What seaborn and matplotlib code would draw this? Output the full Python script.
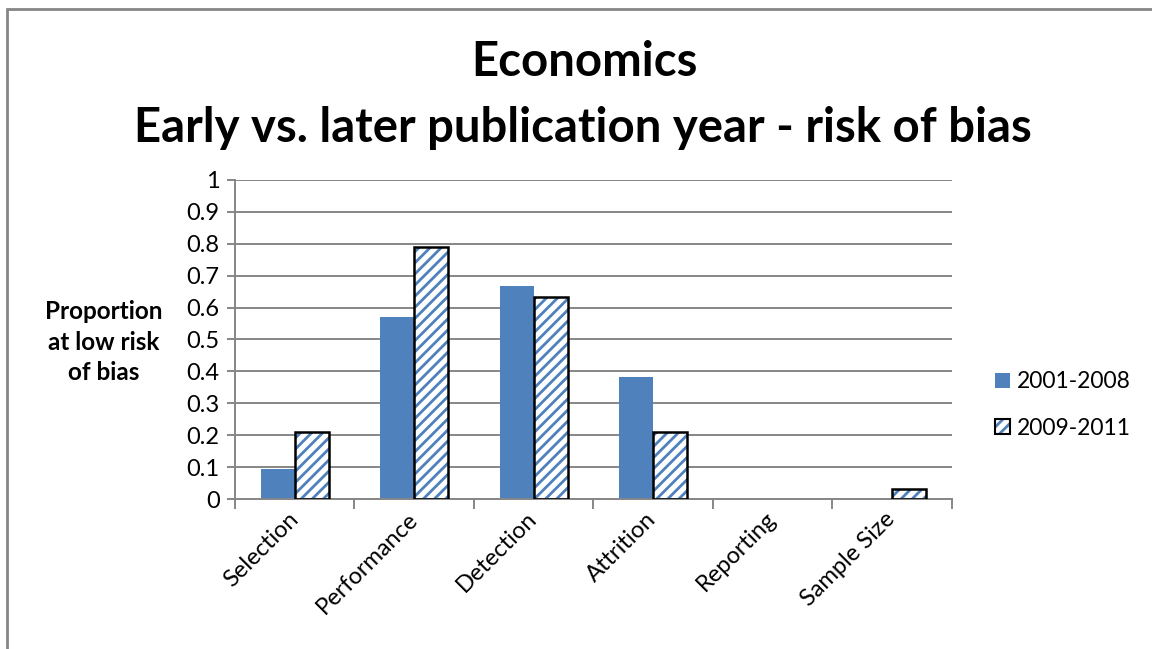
import numpy as np
import pandas as pd
import matplotlib
matplotlib.use("Agg")
import matplotlib.pyplot as plt
import seaborn as sns
from matplotlib.patches import Rectangle, Patch
from matplotlib.legend_handler import HandlerTuple

# Risk-of-bias domains and the proportion of studies at low risk, by period
categories = ["Selection", "Performance", "Detection", "Attrition", "Reporting", "Sample Size"]
series = ["2001-2008", "2009-2011"]
early = [0.095, 0.571, 0.667, 0.381, 0.0, 0.0]
later = [0.211, 0.789, 0.632, 0.211, 0.0, 0.032]
yticks = [0, 0.1, 0.2, 0.3, 0.4, 0.5, 0.6, 0.7, 0.8, 0.9, 1]

BLUE = "#4F81BD"
GRID = "#868686"

sns.set_theme(style="white")
plt.rcParams["font.family"] = ["Lato", "DejaVu Sans"]
plt.rcParams["hatch.linewidth"] = 2.0
plt.rcParams["text.color"] = "black"
plt.rcParams["xtick.labelcolor"] = "black"
plt.rcParams["ytick.labelcolor"] = "black"

df = pd.DataFrame({
    "category": categories * 2,
    "period": [series[0]] * len(categories) + [series[1]] * len(categories),
    "value": early + later,
})

fig = plt.figure(figsize=(11.52, 6.49), dpi=100)
ax = fig.add_axes([0.204, 0.2311, 0.622, 0.4916])

sns.barplot(data=df, x="category", y="value", hue="period", hue_order=series,
            palette=[BLUE, "white"], width=0.57, saturation=1, legend=False,
            ax=ax, zorder=2)

# First period: solid fill, no outline
for bar in ax.containers[0]:
    bar.set_edgecolor("none")
    bar.set_linewidth(0)

# Second period: blue diagonal stripes on white with a black outline
for bar in ax.containers[1]:
    bar.set_facecolor("white")
    bar.set_edgecolor(BLUE)
    bar.set_hatch("///")
    bar.set_linewidth(0)
    if bar.get_height() > 0:
        ax.add_patch(Rectangle(bar.get_xy(), bar.get_width(), bar.get_height(),
                               fill=False, edgecolor="black", linewidth=1.8,
                               zorder=3))

ax.set_xlim(-0.5, len(categories) - 0.5)
ax.set_ylim(0, 1)
ax.set_yticks(yticks)
ax.set_yticklabels([f"{t:g}" for t in yticks])
ax.yaxis.grid(True, color=GRID, linewidth=1.4)
ax.set_axisbelow(True)

for side in ["top", "right"]:
    ax.spines[side].set_visible(False)
for side in ["left", "bottom"]:
    ax.spines[side].set_color(GRID)
    ax.spines[side].set_linewidth(1.4)

ax.tick_params(axis="y", direction="out", length=6, width=1.4, color=GRID,
               labelcolor="black", labelsize=17, pad=5, left=True)
ax.set_xticks(range(len(categories)))
ax.set_xticklabels(categories, rotation=45, ha="right", va="center",
                   rotation_mode="anchor", fontsize=17, color="black")
ax.tick_params(axis="x", which="major", length=0, pad=12)
ax.set_xticks(np.arange(-0.5, len(categories), 1), minor=True)
ax.tick_params(axis="x", which="minor", direction="out", length=7,
               width=1.4, color=GRID, bottom=True)
ax.set_xlabel("")
ax.set_ylabel("")

# Titles and the axis caption
fig.text(0.507, 1 - 62 / 649, "Economics", ha="center", va="center",
         fontsize=34, fontweight="bold", color="black")
fig.text(0.506, 1 - 128 / 649, "Early vs. later publication year - risk of bias",
         ha="center", va="center", fontsize=34, fontweight="bold", color="black")
fig.text(104 / 1152, 1 - 342 / 649, "Proportion\nat low risk\nof bias",
         ha="center", va="center", fontsize=17.5, fontweight="bold",
         linespacing=1.4, color="black")

# Legend
h_early = Patch(facecolor=BLUE, edgecolor="none")
h_later = (Patch(facecolor="white", edgecolor=BLUE, hatch="///", linewidth=0),
           Patch(fill=False, edgecolor="black", linewidth=1.5))
leg = fig.legend([h_early, h_later], series, loc="center left",
                 bbox_to_anchor=(995 / 1152, 1 - 405 / 649), frameon=False,
                 borderaxespad=0, borderpad=0,
                 fontsize=16.5, handlelength=0.65, handleheight=0.65,
                 handletextpad=0.3, labelspacing=1.1,
                 handler_map={tuple: HandlerTuple(ndivide=1, pad=0)})
for t in leg.get_texts():
    t.set_color("black")

# Chart-area border
fig.add_artist(Rectangle((7 / 1152, -0.1), 1.2, 1.1 - 9 / 649,
                         transform=fig.transFigure, fill=False,
                         edgecolor=GRID, linewidth=2))

fig.savefig("out.png", dpi=100)
